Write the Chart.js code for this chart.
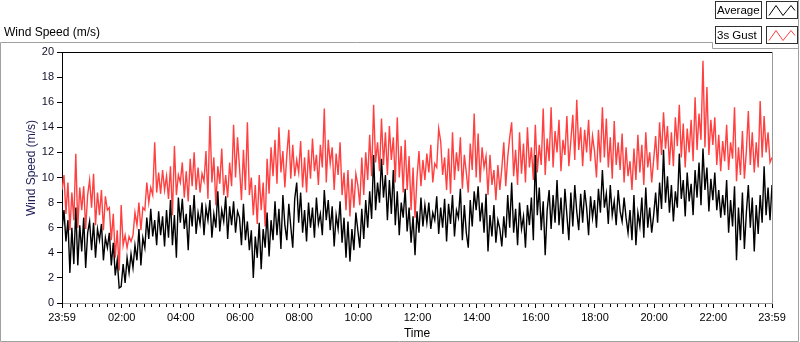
<!DOCTYPE html>
<html>
<head>
<meta charset="utf-8">
<script src="https://cdn.jsdelivr.net/npm/chart.js@4.4.1/dist/chart.umd.min.js"></script>
<style>
  html, body { margin: 0; padding: 0; background: #fff; }
  #wrap { width: 800px; height: 342px; position: relative; }
</style>
</head>
<body>
<div id="wrap"><canvas id="windChart" width="800" height="342"></canvas></div>
<script>
// minutes from midnight, one sample every 4 min starting at 23:59 of the day before
const startMinute = -1;
const stepMinutes = 4;

const seriesNames = ["Average", "3s Gust"];

// average wind speed (m/s)
const avgSpeed = [
  5.8,7.4,4.9,6.6,2.4,6.0,3.1,7.6, 3.0,6.2,4.1,6.8,2.8,5.6,6.5,4.2, 6.4,3.6,5.9,5.0,6.3,3.4,5.2,4.4, 5.6,3.0,4.8,2.2,3.4,1.2,
  1.3,3.1,1.6,3.6,2.4,3.9, 2.8,4.6,3.4,5.9,3.0,5.2, 4.4,6.8,5.1,7.5,5.3,6.6, 4.6,7.3,5.4,6.9,4.5,7.4, 5.2,8.2,4.6,7.0,3.6,8.4,
  6.4,8.3,5.9,7.1,4.2,7.8, 6.1,8.6,5.5,7.2,6.3,8.0, 5.4,7.6,6.6,8.2,5.2,7.1, 6.0,8.9,5.7,7.4,6.5,8.5, 5.1,7.7,6.2,8.1,5.6,7.3,
  6.8,4.6,7.9,5.0,6.5,4.2, 5.8,2.0,5.3,3.6,6.4,2.7, 5.9,4.4,7.2,3.7,6.6,5.0, 8.1,5.4,7.5,4.3,8.6,6.2, 5.0,7.9,6.1,4.4,8.3,9.6,
  6.4,8.8,5.6,7.4,4.9,8.0, 6.0,7.6,5.2,8.4,6.3,7.1, 5.4,9.0,6.6,8.2,5.8,7.7, 4.5,7.0,5.9,8.1,4.8,6.8, 3.6,6.5,3.3,5.9,4.2,7.2,
  5.8,4.4,7.5,5.1,8.2,6.0, 8.9,6.7,11.8,7.4,9.6,8.0, 11.5,8.4,10.2,6.6,9.8,7.1, 10.6,6.2,8.9,5.4,8.0,6.8, 9.1,5.7,7.6,4.8,6.9,3.8,
  7.3,5.6,8.4,6.1,7.8,6.4, 8.0,5.9,7.2,6.6,8.5,5.5, 7.6,6.0,8.3,4.9,7.9,6.3, 8.6,5.3,7.4,6.8,9.1,5.0, 7.8,5.6,4.4,8.2,6.1,8.9,
  7.4,9.3,6.5,8.0,5.6,8.7, 4.1,7.0,5.3,7.8,4.8,6.6, 5.9,4.5,6.9,5.2,8.6,6.0, 9.6,5.6,7.5,4.6,8.0,5.9, 6.9,4.4,7.8,6.2,8.4,5.0,
  11.8,7.0,9.2,5.8,8.1,3.8, 7.4,9.0,5.9,8.6,6.4,9.8, 6.2,8.4,5.5,9.1,7.0,5.0, 8.8,6.1,9.4,7.3,5.8,8.7, 6.4,9.0,7.6,5.4,8.5,6.8,
  8.2,6.0,9.1,7.2,10.6,7.6, 8.7,6.3,9.4,7.0,8.1,6.2, 9.0,7.3,6.5,8.4,6.8,5.6, 7.4,5.0,8.6,4.6,7.2,6.1, 8.4,5.2,9.2,6.0,7.6,5.6,
  7.0,8.8,6.4,9.6,7.5,12.2, 8.0,10.1,7.2,9.4,6.5,8.9, 7.6,11.9,8.3,9.8,6.9,10.4, 8.1,9.5,7.0,10.6,8.4,11.2, 7.8,12.3,9.0,10.8,7.3,9.9,
  8.2,10.4,7.4,9.0,6.8,8.6, 7.0,9.8,5.6,8.2,6.1,9.3, 3.4,7.6,5.0,8.8,4.3,7.2, 9.4,6.0,8.4,4.1,7.8,5.5, 8.6,6.4,10.9,7.0,9.2,6.6,9.4
];

// 3 second gust (m/s)
const gustSpeed = [
  9.0,10.2,7.1,9.6,5.8,8.8,6.6,11.9, 6.0,9.2,7.4,9.3,5.9,8.6,9.8,7.6, 10.3,6.2,8.8,7.0,9.0,5.8,8.5,7.4, 7.6,5.0,7.1,3.6,5.8,2.6,
  7.8,4.6,5.4,4.4,5.3,4.9, 5.4,7.2,6.2,8.0,5.8,7.6, 7.4,9.6,8.0,9.2,8.6,12.8, 8.8,10.4,8.7,10.6,9.0,10.1, 8.3,10.9,7.0,12.5,8.6,10.2,
  9.6,11.2,8.4,10.5,8.1,11.5, 9.3,12.0,9.0,10.8,8.8,10.3, 9.7,12.1,8.3,14.9,9.6,11.6, 7.8,10.9,9.5,12.3,8.6,10.2, 8.4,11.2,9.3,14.2,10.0,13.2,
  10.8,8.2,12.2,9.0,14.4,8.6, 10.0,7.0,9.4,6.3,10.2,7.4, 9.6,6.1,11.5,8.7,12.4,10.1, 13.0,9.5,14.0,10.4,12.1,9.2, 11.8,13.8,9.9,12.6,10.1,11.4,
  10.4,12.9,9.2,11.6,8.8,12.2, 9.9,13.1,10.5,11.8,9.4,12.6, 10.8,15.5,9.6,13.0,11.1,12.4, 9.0,11.9,10.2,12.8,8.6,10.4, 7.4,10.6,6.9,9.9,7.6,10.3,
  9.4,7.8,11.6,8.6,12.0,9.8, 13.4,10.1,15.8,11.2,12.8,10.5, 14.7,11.0,13.6,10.2,14.1,11.4, 13.2,9.6,14.8,10.0,12.5,8.8, 13.0,9.0,11.7,7.4,10.8,6.8,
  10.0,12.1,9.3,11.4,9.8,11.9, 10.4,12.6,9.6,11.1,10.8,13.9, 12.9,10.2,11.6,9.0,12.3,8.7, 13.6,9.8,12.0,10.5,13.2,9.1, 11.8,10.4,8.8,12.7,10.6,15.1,
  10.0,13.5,9.6,12.4,10.8,11.7, 8.6,11.8,9.4,10.6,8.2,11.0, 9.0,10.7,12.8,9.3,11.6,13.2, 14.4,10.1,12.2,9.4,13.6,10.3, 12.7,9.6,14.0,10.8,12.4,9.8,
  14.2,10.4,12.6,11.0,15.5,10.2, 13.1,11.3,15.6,10.8,13.7,12.0, 14.6,10.5,13.0,11.8,14.9,10.9, 12.9,15.0,11.4,16.2,12.2,14.0, 10.9,13.8,12.0,14.6,11.3,13.3,
  12.1,10.0,13.8,11.2,15.6,11.6, 14.7,10.8,13.2,9.9,14.5,11.0, 12.8,10.6,13.5,9.6,12.4,10.1, 11.3,9.0,12.3,9.8,13.4,10.4, 12.6,9.4,13.6,10.8,12.0,9.6,
  11.4,13.3,10.6,14.4,11.8,15.2, 12.3,14.1,11.0,13.6,10.9,14.8, 12.5,15.8,11.6,14.3,10.8,13.9, 12.0,14.6,11.3,16.4,12.2,15.1, 13.0,19.3,12.4,17.2,11.8,14.6,
  12.6,14.8,11.0,13.4,10.5,12.9, 11.3,14.2,10.6,12.8,11.5,15.6, 9.7,12.4,10.2,13.7,9.9,12.1, 15.3,11.0,13.6,10.4,12.8,10.8, 16.1,11.6,14.9,12.0,13.6,11.2,11.6
];

// x axis ticks (minutes) and their labels
const majorTicks = [-1, 120, 240, 360, 480, 600, 720, 840, 960, 1080, 1200, 1320, 1439];
const tickLabels = ["23:59", "02:00", "04:00", "06:00", "08:00", "10:00", "12:00", "14:00", "16:00", "18:00", "20:00", "22:00", "23:59"];
const minorStep = 15;
const yTicks = [0, 2, 4, 6, 8, 10, 12, 14, 16, 18, 20];

const FONT = "'Liberation Sans', Arial, sans-serif";

function toPoints(vals) {
  return vals.map((v, i) => ({ x: startMinute + i * stepMinutes, y: v }));
}

// window frame, titles, plot border, minor ticks, legend
const chrome = {
  id: "chrome",
  afterDraw(chart) {
    const ctx = chart.ctx;
    const a = chart.chartArea;
    const xs = chart.scales.x;
    ctx.save();

    // plot border: top black, right gray
    ctx.lineWidth = 1;
    ctx.strokeStyle = "#000";
    ctx.beginPath();
    ctx.moveTo(a.left, a.top + 0.5);
    ctx.lineTo(a.right, a.top + 0.5);
    ctx.stroke();
    ctx.strokeStyle = "#9a9a9a";
    ctx.beginPath();
    ctx.moveTo(Math.round(a.right) + 0.5, a.top);
    ctx.lineTo(Math.round(a.right) + 0.5, a.bottom + 1);
    ctx.stroke();

    // minor x ticks
    ctx.strokeStyle = "#000";
    ctx.beginPath();
    for (let m = minorStep; m < 1439; m += minorStep) {
      if (majorTicks.includes(m)) continue;
      const px = Math.round(xs.getPixelForValue(m)) + 0.5;
      ctx.moveTo(px, a.bottom + 1);
      ctx.lineTo(px, a.bottom + 4);
    }
    ctx.stroke();

    // outer frame
    ctx.strokeStyle = "#a0a0a0";
    ctx.beginPath();
    ctx.moveTo(0.5, 341.5);
    ctx.lineTo(0.5, 42.5);
    ctx.lineTo(712.5, 42.5);
    ctx.lineTo(712.5, 48.5);
    ctx.lineTo(798.5, 48.5);
    ctx.moveTo(798.5, 0);
    ctx.lineTo(798.5, 341.5);
    ctx.lineTo(0.5, 341.5);
    ctx.stroke();

    // window title
    ctx.fillStyle = "#000";
    ctx.font = "12px " + FONT;
    ctx.textAlign = "left";
    ctx.textBaseline = "alphabetic";
    ctx.fillText("Wind Speed (m/s)", 4, 36);

    // axis titles
    ctx.textAlign = "center";
    ctx.textBaseline = "middle";
    ctx.fillText("Time", (a.left + a.right) / 2, 334);
    ctx.save();
    ctx.translate(32, 168);
    ctx.rotate(-Math.PI / 2);
    ctx.fillStyle = "#1e1e5a";
    ctx.fillText("Wind Speed (m/s)", 0, 0);
    ctx.restore();

    // legend
    const colors = chart.data.datasets.map(d => d.borderColor);
    seriesNames.forEach((name, i) => {
      const top = 1.5 + i * 25;
      ctx.fillStyle = "#fff";
      ctx.fillRect(716, top, 45, 17);
      ctx.fillRect(767, top, 31, 17);
      ctx.strokeStyle = "#303030";
      ctx.strokeRect(715.5, top, 46, 17);
      ctx.strokeRect(766.5, top, 31, 17);
      ctx.fillStyle = "#000";
      ctx.font = "11.5px " + FONT;
      ctx.textAlign = "left";
      ctx.textBaseline = "middle";
      ctx.fillText(name, 717, top + 9);
      ctx.strokeStyle = colors[i];
      ctx.lineWidth = 1;
      ctx.beginPath();
      ctx.moveTo(769, top + 14);
      ctx.lineTo(776, top + 4);
      ctx.lineTo(783, top + 14);
      ctx.lineTo(791, top + 4);
      ctx.lineTo(795, top + 9);
      ctx.stroke();
    });

    ctx.restore();
  }
};

new Chart(document.getElementById("windChart"), {
  type: "line",
  data: {
    datasets: [
      { label: seriesNames[0], data: toPoints(avgSpeed), borderColor: "#000000", borderWidth: 1.4, pointRadius: 0, tension: 0 },
      { label: seriesNames[1], data: toPoints(gustSpeed), borderColor: "#ff4040", borderWidth: 1.4, pointRadius: 0, tension: 0 }
    ]
  },
  options: {
    responsive: false,
    animation: false,
    devicePixelRatio: 1,
    layout: { padding: { top: 52, right: 28, left: 0, bottom: 0 } },
    plugins: { legend: { display: false }, tooltip: { enabled: false } },
    scales: {
      x: {
        type: "linear",
        min: -1,
        max: 1439,
        afterBuildTicks: s => { s.ticks = majorTicks.map(v => ({ value: v })); },
        afterFit: s => { s.height = 39; },
        ticks: {
          autoSkip: false,
          maxRotation: 0,
          padding: 3,
          color: "#000",
          font: { family: FONT, size: 11 },
          callback: (v, i) => tickLabels[i]
        },
        grid: { drawOnChartArea: false, drawTicks: true, tickLength: 5, tickColor: "#000" },
        border: { display: true, color: "#9a9a9a" }
      },
      y: {
        min: 0,
        max: 20,
        afterBuildTicks: s => { s.ticks = yTicks.map(v => ({ value: v })); },
        afterFit: s => { s.width = 62; },
        ticks: {
          padding: 3,
          color: "#101028",
          font: { family: FONT, size: 11 }
        },
        grid: { drawOnChartArea: false, drawTicks: true, tickLength: 5, tickColor: "#000" },
        border: { display: true, color: "#000" }
      }
    }
  },
  plugins: [chrome]
});
</script>
</body>
</html>
